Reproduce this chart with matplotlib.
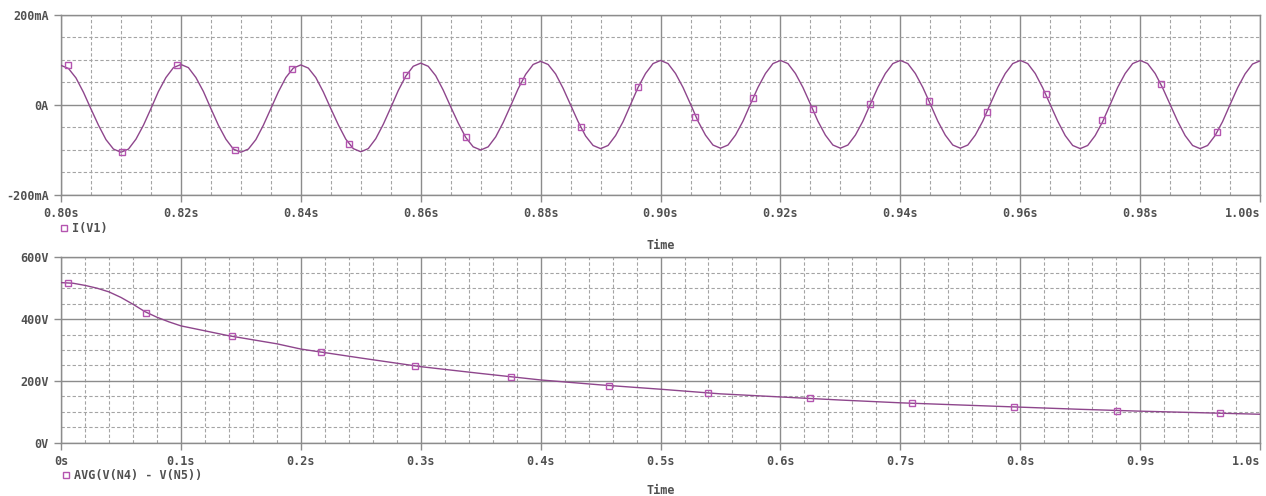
import numpy as np
import matplotlib
matplotlib.use('Agg')
import matplotlib.pyplot as plt

# ///////////////////////////////////////////////////////////////// data

# top trace: I(V1) in mA, sampled every 1.25 ms from 0.80 s to 1.00 s
i_t_start, i_t_step = 0.80, 0.00125
i_v1 = [88, 81, 60, 28, -9, -45, -77, -98, -105,
        -98, -76, -45, -8, 30, 61, 83, 90,
        83, 61, 30, -8, -45, -76, -98, -105,
        -98, -77, -45, -8, 29, 61, 82, 89,
        82, 61, 29, -8, -44, -76, -97, -104,
        -97, -75, -43, -6, 32, 64, 86, 93,
        86, 65, 33, -4, -40, -72, -93, -100,
        -93, -71, -39, -2, 36, 68, 90, 97,
        90, 69, 37, 0, -37, -69, -90, -97,
        -90, -68, -37, 1, 39, 70, 92, 99,
        92, 70, 39, 2, -36, -67, -89, -96,
        -89, -67, -36, 2, 39, 70, 92, 99,
        92, 70, 39, 2, -36, -67, -89, -96,
        -89, -67, -36, 2, 39, 70, 92, 99,
        92, 70, 39, 2, -36, -67, -89, -96,
        -89, -67, -36, 2, 39, 70, 92, 99,
        92, 70, 38, 1, -36, -68, -90, -97,
        -90, -68, -37, 1, 39, 70, 92, 99,
        92, 70, 38, 1, -36, -68, -90, -97,
        -90, -68, -37, 1, 38, 69, 91, 98]
i_marker_t = [0.8011, 0.8101, 0.8193, 0.8290, 0.8385, 0.8480, 0.8576, 0.8675, 0.8769,
              0.8867, 0.8962, 0.9057, 0.9154, 0.9254, 0.9349, 0.9447, 0.9545, 0.9643,
              0.9736, 0.9835, 0.9928]
i_marker_v = [89, -104, 88, -100, 79, -87, 67, -72, 54, -49, 40, -27, 16, -10, 2, 9,
              -16, 24, -34, 46, -60]

# bottom trace: AVG(V(N4) - V(N5)) in V
v_t = [0.0, 0.01, 0.02, 0.03, 0.04, 0.05, 0.06, 0.07, 0.08, 0.09, 0.10, 0.12, 0.14,
       0.16, 0.18, 0.20, 0.25, 0.30, 0.35, 0.40, 0.45, 0.50, 0.55, 0.60, 0.65, 0.70,
       0.75, 0.80, 0.85, 0.90, 0.95, 1.0]
v_avg = [518, 516, 509, 500, 488, 470, 448, 424, 406, 391, 378, 362, 346,
         333, 320, 303, 274, 246, 224, 203, 187, 173, 158, 148, 138, 129,
         122, 115, 108, 102, 97, 92]
v_marker_t = [0.006, 0.071, 0.143, 0.217, 0.295, 0.375, 0.457, 0.540, 0.625, 0.710,
              0.795, 0.881, 0.967]
v_marker_v = [517, 421, 345, 293, 248, 213, 184, 160, 143, 129, 116, 104, 96]

top_xticks = [0.80, 0.82, 0.84, 0.86, 0.88, 0.90, 0.92, 0.94, 0.96, 0.98, 1.00]
top_xlabels = ['0.80s', '0.82s', '0.84s', '0.86s', '0.88s', '0.90s', '0.92s', '0.94s',
               '0.96s', '0.98s', '1.00s']
top_yticks = [-200, 0, 200]
top_ylabels = ['-200mA', '0A', '200mA']
bot_xticks = [0.0, 0.1, 0.2, 0.3, 0.4, 0.5, 0.6, 0.7, 0.8, 0.9, 1.0]
bot_xlabels = ['0s', '0.1s', '0.2s', '0.3s', '0.4s', '0.5s', '0.6s', '0.7s', '0.8s',
               '0.9s', '1.0s']
bot_yticks = [0, 200, 400, 600]
bot_ylabels = ['0V', '200V', '400V', '600V']

# ///////////////////////////////////////////////////////////////// style

LINE_C = '#8e468c'
MARK_C = '#b455b0'
GRID_C = '#8c8c8c'
MINOR_C = '#a4a4a4'
TEXT_C = '#505050'
FONT = dict(family='DejaVu Sans Mono', weight='bold', size=8.5, color=TEXT_C)


def style_axes(ax, xticks, xlabels, xminor, yticks, ylabels, yminor):
    ax.set_xticks(xticks)
    ax.set_xticklabels(xlabels, **FONT)
    ax.set_yticks(yticks)
    ax.set_yticklabels(ylabels, **FONT)
    ax.set_xticks(xminor, minor=True)
    ax.set_yticks(yminor, minor=True)
    ax.set_xlim(xticks[0], xticks[-1])
    ax.set_ylim(yticks[0], yticks[-1])
    ax.grid(which='major', color=GRID_C, lw=1.0, ls='-')
    ax.grid(which='minor', color=MINOR_C, lw=0.8, ls=(0, (3, 2)))
    ax.set_axisbelow(True)
    for s in ax.spines.values():
        s.set_color(GRID_C)
        s.set_linewidth(1.0)
    ax.tick_params(which='major', direction='out', length=5, width=1, color=GRID_C, pad=4)
    ax.tick_params(which='minor', length=0)
    ax.set_xlabel('Time', **FONT)
    # the last time label sits inside the right edge
    ax.get_xticklabels()[-1].set_horizontalalignment('right')


fig = plt.figure(figsize=(12.66, 4.96), dpi=100)
ax1 = fig.add_axes([0.0482, 0.6069, 0.9471, 0.3629])
ax2 = fig.add_axes([0.0482, 0.1075, 0.9471, 0.3738])

# top plot
t_i = i_t_start + i_t_step * np.arange(len(i_v1))
ax1.plot(t_i, i_v1, color=LINE_C, lw=1.0, zorder=3)
ax1.plot(i_marker_t, i_marker_v, ls='none', marker='s', ms=4.5, mfc='none',
         mec=MARK_C, mew=1.0, zorder=4)
style_axes(ax1, top_xticks, top_xlabels, np.arange(0.80, 1.0001, 0.005),
           top_yticks, top_ylabels, np.arange(-200, 201, 50))
ax1.xaxis.set_label_coords(0.5, -0.245)
ax1.plot([0.0025], [-0.185], transform=ax1.transAxes, ls='none', marker='s', ms=4,
         mfc='none', mec=MARK_C, mew=1.0, clip_on=False)
ax1.text(0.009, -0.185, 'I(V1)', transform=ax1.transAxes, va='center', ha='left', **FONT)

# bottom plot
ax2.plot(v_t, v_avg, color=LINE_C, lw=1.0, zorder=3)
ax2.plot(v_marker_t, v_marker_v, ls='none', marker='s', ms=4.5, mfc='none',
         mec=MARK_C, mew=1.0, zorder=4)
style_axes(ax2, bot_xticks, bot_xlabels, np.arange(0, 1.0001, 0.02),
           bot_yticks, bot_ylabels, np.arange(0, 601, 50))
ax2.xaxis.set_label_coords(0.5, -0.225)
ax2.plot([0.004], [-0.175], transform=ax2.transAxes, ls='none', marker='s', ms=4,
         mfc='none', mec=MARK_C, mew=1.0, clip_on=False)
ax2.text(0.011, -0.175, 'AVG(V(N4) - V(N5))', transform=ax2.transAxes, va='center',
         ha='left', **FONT)

fig.savefig('out.png', dpi=100)
